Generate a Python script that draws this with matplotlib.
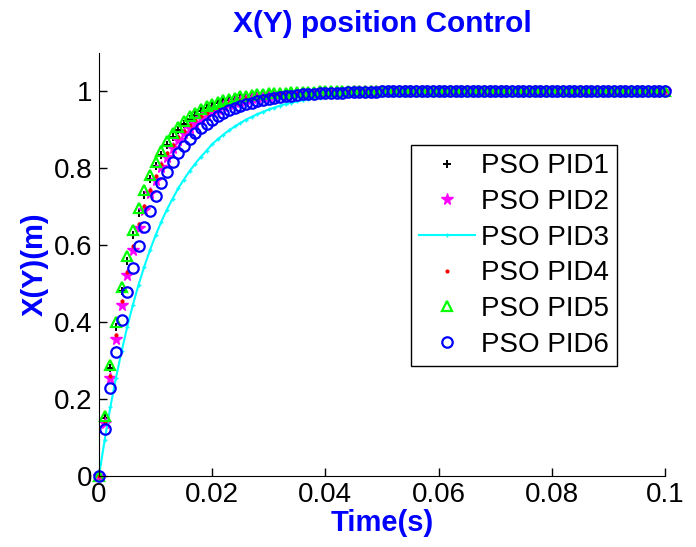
import numpy as np
import matplotlib
matplotlib.use('Agg')
import matplotlib.pyplot as plt

plt.rcParams['font.family'] = ['Liberation Sans', 'DejaVu Sans']

# sample times (s), one marker every 1 ms
t = np.linspace(0, 0.1, 101)

pid1 = [0, .151, .280, .388, .481, .559, .626, .683, .731, .771,
        .806, .835, .860, .881, .899, .914, .927, .938, .948, .956,
        .962, .968, .973, .977, .980, .983, .986, .988, .990, .991,
        .993, .994, .995, .996, .996, .997, .997, .998, .998, .998,
        .999, .999, .999, .999, .999, .999, .999, 1, 1, 1,
        1, 1, 1, 1, 1, 1, 1, 1, 1, 1,
        1, 1, 1, 1, 1, 1, 1, 1, 1, 1,
        1, 1, 1, 1, 1, 1, 1, 1, 1, 1,
        1, 1, 1, 1, 1, 1, 1, 1, 1, 1,
        1, 1, 1, 1, 1, 1, 1, 1, 1, 1,
        1]

pid2 = [0, .137, .255, .357, .445, .521, .586, .643, .692, .734,
        .770, .802, .829, .852, .872, .890, .905, .918, .929, .939,
        .947, .954, .961, .966, .971, .975, .978, .981, .984, .986,
        .988, .990, .991, .992, .993, .994, .995, .996, .996, .997,
        .997, .998, .998, .998, .998, .999, .999, .999, .999, .999,
        .999, 1, 1, 1, 1, 1, 1, 1, 1, 1,
        1, 1, 1, 1, 1, 1, 1, 1, 1, 1,
        1, 1, 1, 1, 1, 1, 1, 1, 1, 1,
        1, 1, 1, 1, 1, 1, 1, 1, 1, 1,
        1, 1, 1, 1, 1, 1, 1, 1, 1, 1,
        1]

pid3 = [0, .093, .178, .255, .324, .388, .445, .497, .544, .586,
        .625, .660, .692, .720, .747, .770, .792, .811, .829, .845,
        .862, .875, .887, .898, .908, .917, .926, .933, .940, .946,
        .952, .957, .962, .966, .970, .973, .976, .979, .981, .983,
        .985, .987, .988, .990, .991, .992, .993, .994, .994, .995,
        .995, .996, .996, .997, .997, .997, .998, .998, .998, .998,
        .999, .999, .999, .999, .999, .999, 1, 1, 1, 1,
        1, 1, 1, 1, 1, 1, 1, 1, 1, 1,
        1, 1, 1, 1, 1, 1, 1, 1, 1, 1,
        1, 1, 1, 1, 1, 1, 1, 1, 1, 1,
        1]

pid4 = [0, .141, .261, .365, .455, .531, .597, .654, .702, .744,
        .780, .811, .838, .861, .880, .897, .911, .924, .935, .944,
        .952, .958, .964, .969, .974, .977, .981, .983, .986, .988,
        .989, .991, .992, .993, .994, .995, .996, .996, .997, .997,
        .998, .998, .998, .999, .999, .999, .999, .999, .999, 1,
        1, 1, 1, 1, 1, 1, 1, 1, 1, 1,
        1, 1, 1, 1, 1, 1, 1, 1, 1, 1,
        1, 1, 1, 1, 1, 1, 1, 1, 1, 1,
        1, 1, 1, 1, 1, 1, 1, 1, 1, 1,
        1, 1, 1, 1, 1, 1, 1, 1, 1, 1,
        1]

pid5 = [0, .156, .288, .399, .492, .571, .638, .695, .742, .782,
        .816, .845, .869, .890, .907, .921, .934, .944, .953, .960,
        .966, .972, .976, .980, .983, .986, .988, .990, .991, .993,
        .994, .995, .996, .996, .997, .997, .998, .998, .998, .999,
        .999, .999, .999, .999, .999, 1, 1, 1, 1, 1,
        1, 1, 1, 1, 1, 1, 1, 1, 1, 1,
        1, 1, 1, 1, 1, 1, 1, 1, 1, 1,
        1, 1, 1, 1, 1, 1, 1, 1, 1, 1,
        1, 1, 1, 1, 1, 1, 1, 1, 1, 1,
        1, 1, 1, 1, 1, 1, 1, 1, 1, 1,
        1]

pid6 = [0, .122, .229, .323, .405, .478, .541, .597, .646, .689,
        .727, .760, .790, .815, .838, .857, .875, .890, .903, .915,
        .926, .935, .943, .950, .956, .961, .966, .970, .974, .977,
        .980, .982, .984, .986, .988, .989, .991, .992, .993, .994,
        .994, .995, .996, .996, .997, .997, .997, .998, .998, .998,
        .999, .999, .999, .999, .999, .999, 1, 1, 1, 1,
        1, 1, 1, 1, 1, 1, 1, 1, 1, 1,
        1, 1, 1, 1, 1, 1, 1, 1, 1, 1,
        1, 1, 1, 1, 1, 1, 1, 1, 1, 1,
        1, 1, 1, 1, 1, 1, 1, 1, 1, 1,
        1]

labels = ['PSO PID1', 'PSO PID2', 'PSO PID3', 'PSO PID4', 'PSO PID5', 'PSO PID6']

fig = plt.figure(figsize=(6.96, 5.47), dpi=100)
ax = fig.add_axes([0.1422, 0.1298, 0.8132, 0.7742])

ax.plot(t, pid1, '+', color='black', ms=6, mew=1.4, label=labels[0], clip_on=False)
ax.plot(t, pid2, '*', color='#ff00ff', ms=8.5, label=labels[1], clip_on=False)
ax.plot(t, pid3, '-+', color='cyan', lw=1.5, ms=3, label=labels[2], clip_on=False)
ax.plot(t, pid4, '.', color='red', ms=4, label=labels[3], clip_on=False)
ax.plot(t, pid5, '^', color='#00ff00', mfc='none', ms=7.5, mew=1.6, label=labels[4], clip_on=False)
ax.plot(t, pid6, 'o', color='#0000ff', mfc='none', ms=7.5, mew=1.6, label=labels[5], clip_on=False)

ax.set_xlim(0, 0.1)
ax.set_ylim(0, 1.1)
ax.set_xticks([0, 0.02, 0.04, 0.06, 0.08, 0.1])
ax.set_xticklabels(['0', '0.02', '0.04', '0.06', '0.08', '0.1'])
ax.set_yticks([0, 0.2, 0.4, 0.6, 0.8, 1])
ax.set_yticklabels(['0', '0.2', '0.4', '0.6', '0.8', '1'])
ax.tick_params(direction='in', length=6, width=1, labelsize=20)
ax.tick_params(axis='x', pad=4)
ax.tick_params(axis='y', pad=5)
ax.spines['top'].set_visible(False)
ax.spines['right'].set_visible(False)

ax.set_title('X(Y) position Control', color='blue', fontsize=21.5, fontweight='bold', pad=15)
ax.set_xlabel('Time(s)', color='blue', fontsize=21, fontweight='bold', labelpad=1)
ax.set_ylabel('X(Y)(m)', color='blue', fontsize=21, fontweight='bold', labelpad=3)

leg = ax.legend(loc='upper right', bbox_to_anchor=(0.8865, 0.735), bbox_transform=fig.transFigure,
                borderaxespad=0, fontsize=20, fancybox=False, framealpha=1, edgecolor='black',
                labelspacing=0.35, handlelength=2.0, handletextpad=0.22, borderpad=0.3)
leg.get_frame().set_linewidth(1)

fig.savefig('out.png', dpi=100)
